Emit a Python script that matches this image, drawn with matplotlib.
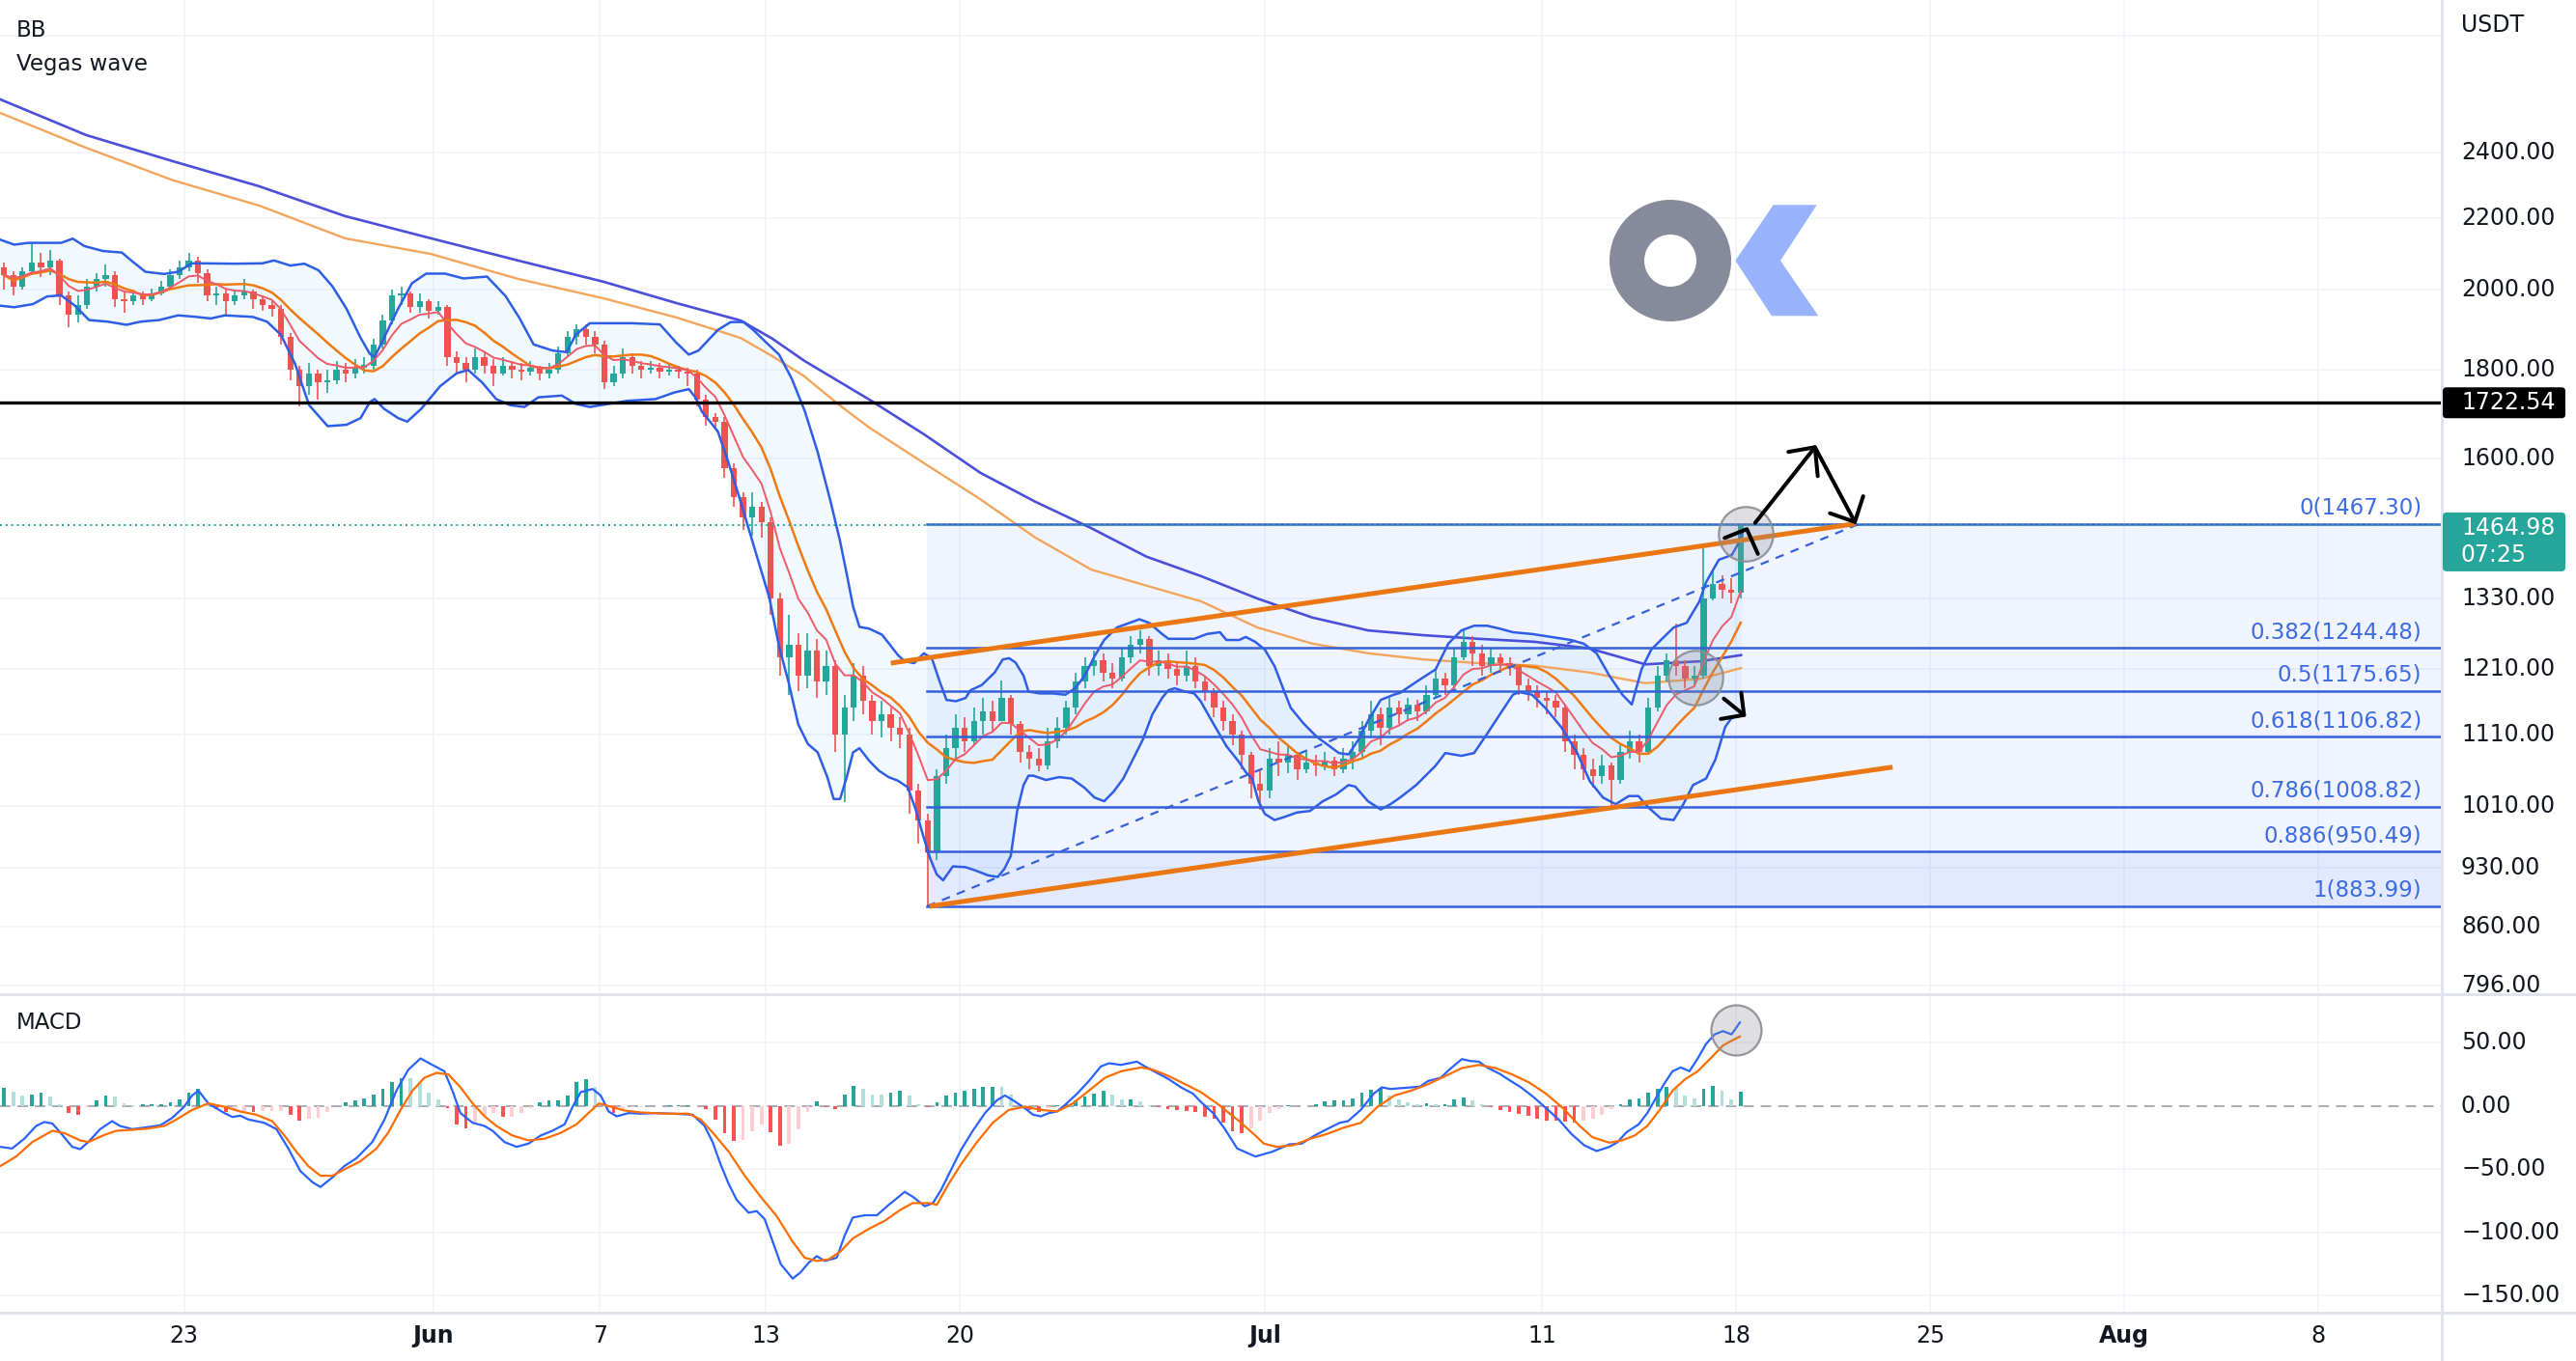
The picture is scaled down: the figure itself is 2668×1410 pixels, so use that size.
import numpy as np
import pandas as pd
import matplotlib
matplotlib.use("Agg")
import matplotlib.pyplot as plt
from matplotlib.patches import Wedge, Polygon, FancyBboxPatch
from matplotlib.lines import Line2D
from matplotlib.transforms import blended_transform_factory, IdentityTransform, Bbox

plt.rcParams['font.family'] = ['DejaVu Sans']

W, H, DPI = 2668, 1410, 100

# ---------------- time axis (day index, 1 May = 0) ----------------
XMIN, XMAX = 15.355, 103.47
tick_days = [22, 31, 37, 43, 50, 61, 71, 78, 85, 92, 99]
tick_labels = ["23", "Jun", "7", "13", "20", "Jul", "11", "18", "25", "Aug", "8"]
bold_ticks = ["Jun", "Jul", "Aug"]

price_ticks = [2400, 2200, 2000, 1800, 1600, 1330, 1210, 1110, 1010, 930, 860, 796]
price_grid_extra = [2800]
macd_ticks = [50, 0, -50, -100, -150]

# ---------------- candles (8h bars, first bar at day 15.5) ----------------
candle_t0 = 15.5
first_open = 2060
closes = [
    2040, 2010, 2050, 2075, 2060, 2080, 1985, 1935, 1960,
    2010, 2030, 2040, 1975, 1970, 1985, 1975, 1990, 2010,
    2040, 2060, 2080, 2045, 1985, 1990, 1970, 1985, 1995,
    1975, 1960, 1950, 1880, 1800, 1760, 1790, 1770, 1775,
    1800, 1790, 1805, 1810, 1860, 1920, 1985, 1990, 1955,
    1970, 1945, 1955, 1830, 1815, 1800, 1830, 1810, 1790,
    1810, 1800, 1795, 1805, 1790, 1800, 1840, 1880, 1900,
    1880, 1860, 1770, 1790, 1830, 1810, 1800, 1805, 1795,
    1800, 1795, 1790, 1730, 1690, 1680, 1580, 1520, 1480,
    1500, 1470, 1330, 1230, 1250, 1200, 1240, 1190, 1215,
    1110, 1150, 1200, 1160, 1130, 1140, 1120, 1110, 1030,
    990, 950, 1050, 1090, 1120, 1100, 1130, 1145, 1130,
    1165, 1125, 1085, 1075, 1065, 1100, 1120, 1150, 1190,
    1215, 1225, 1205, 1195, 1230, 1250, 1260, 1215, 1225,
    1210, 1200, 1215, 1190, 1175, 1150, 1130, 1110, 1080,
    1040, 1030, 1075, 1070, 1080, 1060, 1070, 1065, 1072,
    1060, 1075, 1085, 1115, 1140, 1120, 1150, 1140, 1155,
    1145, 1170, 1195, 1185, 1230, 1255, 1235, 1215, 1230,
    1220, 1215, 1185, 1175, 1165, 1160, 1150, 1100, 1080,
    1060, 1050, 1065, 1045, 1085, 1100, 1085, 1150, 1200,
    1225, 1215, 1195, 1200, 1330, 1355, 1345, 1340, 1464.98,
]
highs = [
    2075, 2050, 2060, 2130, 2100, 2110, 2085, 1995, 1985,
    2030, 2045, 2070, 2050, 1995, 2000, 1995, 2005, 2025,
    2055, 2080, 2100, 2090, 2055, 2010, 2000, 2000, 2030,
    2000, 1985, 1970, 1960, 1890, 1810, 1815, 1800, 1800,
    1820, 1815, 1825, 1830, 1875, 1935, 2000, 2010, 1995,
    1990, 1975, 1970, 1960, 1845, 1830, 1850, 1845, 1825,
    1830, 1820, 1815, 1820, 1810, 1815, 1855, 1895, 1912,
    1910, 1895, 1870, 1810, 1850, 1840, 1820, 1820, 1815,
    1815, 1810, 1805, 1800, 1740, 1700, 1690, 1590, 1530,
    1530, 1510, 1480, 1340, 1300, 1270, 1270, 1260, 1240,
    1225, 1170, 1220, 1215, 1170, 1160, 1150, 1135, 1120,
    1040, 1000, 1060, 1110, 1140, 1135, 1150, 1165, 1160,
    1192, 1170, 1130, 1095, 1090, 1120, 1135, 1160, 1205,
    1230, 1240, 1235, 1220, 1245, 1265, 1275, 1265, 1240,
    1235, 1220, 1240, 1230, 1200, 1180, 1160, 1140, 1115,
    1085, 1060, 1090, 1100, 1095, 1085, 1085, 1080, 1085,
    1078, 1090, 1100, 1130, 1160, 1150, 1165, 1160, 1165,
    1162, 1185, 1210, 1205, 1245, 1275, 1265, 1250, 1245,
    1235, 1230, 1215, 1195, 1185, 1175, 1170, 1155, 1110,
    1090, 1075, 1080, 1070, 1095, 1115, 1110, 1165, 1215,
    1235, 1285, 1225, 1215, 1420, 1380, 1370, 1365, 1467.3,
]
lows = [
    2000, 1985, 2000, 2040, 2035, 2040, 1960, 1905, 1915,
    1950, 1995, 2010, 1955, 1940, 1960, 1960, 1970, 1985,
    2000, 2030, 2050, 2020, 1970, 1960, 1935, 1960, 1975,
    1950, 1945, 1930, 1860, 1775, 1714, 1740, 1730, 1745,
    1765, 1770, 1780, 1790, 1800, 1850, 1910, 1960, 1940,
    1940, 1925, 1935, 1810, 1790, 1770, 1790, 1790, 1760,
    1785, 1780, 1775, 1785, 1775, 1780, 1790, 1830, 1860,
    1860, 1840, 1755, 1760, 1780, 1790, 1780, 1790, 1780,
    1785, 1780, 1760, 1715, 1670, 1665, 1560, 1500, 1455,
    1445, 1440, 1300, 1200, 1170, 1175, 1180, 1165, 1170,
    1085, 1015, 1130, 1140, 1110, 1105, 1100, 1090, 1000,
    960, 884, 940, 1040, 1075, 1085, 1095, 1110, 1115,
    1130, 1110, 1070, 1060, 1057, 1060, 1090, 1110, 1140,
    1180, 1200, 1190, 1180, 1190, 1220, 1235, 1200, 1200,
    1195, 1185, 1190, 1180, 1160, 1135, 1115, 1095, 1060,
    1020, 1004, 1020, 1050, 1055, 1045, 1055, 1050, 1058,
    1050, 1055, 1060, 1075, 1105, 1095, 1110, 1125, 1130,
    1130, 1140, 1165, 1170, 1180, 1225, 1215, 1200, 1205,
    1205, 1200, 1170, 1160, 1150, 1140, 1135, 1085, 1060,
    1045, 1035, 1040, 1007, 1040, 1075, 1070, 1080, 1145,
    1190, 1200, 1180, 1185, 1195, 1325, 1330, 1320, 1330,
]

# ---------------- Bollinger bands ----------------
bb_upper = [
    (15.36, 2138), (15.87, 2124), (16.37, 2129), (17.05, 2129), (17.56, 2129), (17.98, 2141),
    (18.40, 2120), (19.08, 2106), (19.75, 2102), (20.09, 2080), (20.60, 2049), (21.27, 2043),
    (21.78, 2049), (22.28, 2072), (22.79, 2072), (23.81, 2071), (24.82, 2072), (25.24, 2080),
    (25.83, 2066), (26.34, 2071), (26.85, 2053), (27.35, 2010), (27.86, 1951), (28.37, 1877),
    (28.70, 1838), (28.87, 1830), (29.21, 1877), (29.72, 1951), (30.22, 2018), (30.73, 2044),
    (31.41, 2044), (32.08, 2031), (32.93, 2036), (33.60, 1984), (34.11, 1926), (34.61, 1861),
    (35.29, 1846), (35.80, 1842), (36.13, 1885), (36.64, 1914), (37.32, 1914), (38.16, 1914),
    (39.17, 1911), (39.75, 1866), (40.21, 1836), (40.56, 1846), (41.26, 1897), (41.72, 1917),
    (42.19, 1917), (42.54, 1897), (43.00, 1866), (43.47, 1836), (43.93, 1778), (44.40, 1703),
    (44.86, 1614), (45.32, 1513), (45.67, 1434), (45.91, 1373), (46.14, 1315), (46.37, 1280),
    (46.72, 1277), (47.18, 1267), (47.42, 1253), (47.76, 1233), (48.00, 1223), (48.34, 1220),
    (48.69, 1236), (48.98, 1228), (49.27, 1190), (49.51, 1162), (49.85, 1160), (50.20, 1165),
    (50.38, 1177), (50.78, 1185), (51.25, 1205), (51.54, 1226), (51.77, 1228), (52.00, 1221),
    (52.29, 1200), (52.47, 1175), (52.87, 1172), (53.34, 1172), (53.80, 1170), (54.15, 1180),
    (54.50, 1200), (54.85, 1231), (55.20, 1258), (55.66, 1279), (56.13, 1287), (56.47, 1293),
    (56.82, 1287), (57.29, 1268), (57.52, 1260), (57.98, 1260), (58.45, 1260), (58.91, 1268),
    (59.38, 1271), (59.61, 1258), (60.07, 1258), (60.31, 1263), (60.65, 1255), (61.00, 1242),
    (61.35, 1215), (61.70, 1175), (61.93, 1150), (62.40, 1126), (62.86, 1107), (63.33, 1093),
    (63.67, 1083), (64.02, 1081), (64.37, 1102), (64.72, 1130), (65.18, 1162), (65.65, 1170),
    (65.88, 1173), (66.46, 1190), (67.16, 1210), (67.62, 1252), (68.09, 1274), (68.55, 1282),
    (69.02, 1282), (69.48, 1277), (69.95, 1271), (70.64, 1268), (71.34, 1263), (72.04, 1258),
    (72.50, 1252), (72.97, 1236), (73.43, 1200), (73.90, 1170), (74.24, 1155), (74.59, 1210),
    (74.94, 1242), (75.29, 1258), (75.75, 1279), (76.22, 1287), (76.68, 1324), (76.92, 1358),
    (77.38, 1399), (77.85, 1408), (78.08, 1429), (78.25, 1454),
]
bb_lower = [
    (15.36, 1959), (15.87, 1955), (16.54, 1963), (17.05, 1983), (17.56, 1986), (18.06, 1959),
    (18.57, 1922), (19.24, 1918), (19.92, 1910), (20.43, 1918), (21.10, 1922), (21.78, 1934),
    (22.45, 1930), (22.96, 1926), (23.47, 1934), (24.48, 1930), (24.99, 1918), (25.49, 1885),
    (26.00, 1814), (26.51, 1717), (27.18, 1670), (27.86, 1673), (28.37, 1688), (28.70, 1724),
    (28.87, 1731), (29.21, 1709), (29.72, 1688), (30.05, 1680), (30.56, 1709), (31.24, 1761),
    (31.83, 1791), (32.25, 1799), (32.76, 1769), (33.26, 1731), (33.77, 1717), (34.28, 1713),
    (34.78, 1735), (35.63, 1739), (36.13, 1720), (36.64, 1713), (37.32, 1720), (37.99, 1727),
    (39.01, 1731), (39.68, 1746), (40.21, 1754), (40.45, 1735), (40.68, 1703), (41.03, 1676),
    (41.26, 1658), (41.61, 1597), (42.07, 1513), (42.42, 1449), (42.77, 1388), (43.12, 1330),
    (43.47, 1247), (43.82, 1188), (44.16, 1125), (44.51, 1096), (44.86, 1084), (45.21, 1049),
    (45.44, 1019), (45.67, 1019), (45.91, 1049), (46.14, 1084), (46.37, 1090), (46.72, 1072),
    (47.07, 1058), (47.42, 1049), (47.76, 1044), (48.11, 1035), (48.40, 1005), (48.69, 968),
    (48.92, 942), (49.16, 922), (49.39, 915), (49.74, 932), (50.20, 931), (50.55, 927),
    (51.01, 921), (51.36, 919), (51.60, 929), (51.83, 945), (52.06, 1003), (52.29, 1038),
    (52.47, 1051), (52.64, 1051), (53.10, 1045), (53.57, 1049), (54.03, 1047), (54.50, 1034),
    (54.85, 1021), (55.20, 1016), (55.54, 1029), (55.89, 1047), (56.24, 1074), (56.59, 1102),
    (56.94, 1140), (57.29, 1165), (57.52, 1177), (57.75, 1180), (58.10, 1175), (58.45, 1172),
    (58.68, 1160), (59.14, 1126), (59.61, 1093), (60.07, 1070), (60.31, 1056), (60.54, 1047),
    (60.77, 1016), (61.00, 999), (61.35, 991), (61.70, 995), (62.16, 1001), (62.63, 1003),
    (63.09, 1016), (63.56, 1025), (64.02, 1038), (64.26, 1036), (64.72, 1016), (65.18, 1005),
    (65.53, 1012), (65.88, 1021), (66.46, 1038), (67.16, 1065), (67.51, 1083), (68.09, 1079),
    (68.55, 1083), (69.02, 1111), (69.48, 1140), (69.95, 1170), (70.18, 1174), (70.64, 1170),
    (71.11, 1150), (71.69, 1121), (72.27, 1083), (72.73, 1043), (73.20, 1021), (73.66, 1012),
    (74.13, 1023), (74.48, 1023), (74.83, 1008), (75.29, 993), (75.75, 991), (76.10, 1012),
    (76.45, 1038), (76.92, 1047), (77.26, 1074), (77.61, 1121), (77.85, 1135), (78.19, 1138),
]

# ---------------- Vegas tunnel long EMAs ----------------
ema_tunnel_slow = [
    (15.36, 2575), (18.46, 2456), (21.60, 2372), (24.70, 2295), (27.80, 2206), (30.90, 2142),
    (34.04, 2080), (37.14, 2022), (39.75, 1966), (42.08, 1921), (43.23, 1875), (44.38, 1821),
    (46.72, 1730), (48.70, 1652), (50.73, 1570), (52.71, 1511), (54.73, 1459), (56.72, 1405),
    (58.70, 1369), (60.73, 1329), (62.71, 1296), (64.73, 1274), (66.72, 1266), (68.70, 1260),
    (70.73, 1255), (72.71, 1244), (74.73, 1218), (76.72, 1223), (78.18, 1233),
]
ema_tunnel_fast = [
    (15.36, 2529), (18.46, 2415), (21.60, 2313), (24.70, 2237), (27.80, 2142), (30.90, 2098),
    (34.04, 2030), (37.14, 1978), (39.75, 1929), (42.08, 1877), (43.23, 1832), (44.38, 1784),
    (45.57, 1721), (46.72, 1667), (48.70, 1590), (50.73, 1516), (52.71, 1441), (54.73, 1381),
    (56.72, 1352), (58.70, 1324), (60.73, 1279), (62.71, 1252), (64.73, 1236), (66.72, 1226),
    (68.70, 1220), (70.73, 1216), (72.71, 1205), (74.73, 1188), (76.72, 1195), (78.18, 1212),
]

# ---------------- MACD ----------------
macd_line = [
    (15.36, -32.5), (15.79, -33.8), (16.23, -26.1), (16.66, -16.0), (16.95, -12.9), (17.24, -14.0),
    (17.53, -21.1), (17.96, -32.5), (18.25, -34.3), (18.54, -28.7), (18.97, -18.5), (19.40, -12.2),
    (19.69, -16.0), (20.13, -18.5), (20.56, -17.3), (21.14, -15.5), (21.57, -9.6), (22.00, -0.8),
    (22.29, 8.1), (22.52, 11.9), (22.87, 1.8), (23.45, -5.8), (23.74, -8.9), (24.03, -7.9),
    (24.32, -10.9), (24.89, -13.5), (25.33, -18.5), (25.76, -33.8), (26.19, -51.5), (26.63, -60.4),
    (26.92, -64.2), (27.35, -56.6), (27.78, -47.7), (28.22, -41.4), (28.79, -28.7), (29.23, -10.9),
    (29.66, 11.9), (30.09, 28.4), (30.53, 37.3), (30.96, 32.2), (31.39, 27.2), (31.68, 11.9),
    (31.97, -5.8), (32.41, -13.5), (32.84, -16.0), (33.13, -19.8), (33.56, -28.7), (34.00, -32.5),
    (34.43, -29.9), (34.86, -23.6), (35.29, -19.8), (35.73, -14.7), (36.02, -0.8), (36.31, 10.7),
    (36.74, 13.2), (37.03, 8.1), (37.32, -4.6), (37.61, -8.4), (38.04, -5.8), (38.47, -6.3),
    (39.05, -5.8), (39.63, -6.3), (40.35, -7.1), (40.78, -16.0), (41.07, -28.7), (41.36, -46.4),
    (41.65, -61.7), (41.94, -74.4), (42.37, -84.5), (42.66, -83.2), (42.95, -89.6), (43.24, -107.4),
    (43.53, -125.1), (43.96, -136.5), (44.25, -131.5), (44.54, -123.9), (44.83, -118.8), (45.12, -122.6),
    (45.55, -120.0), (45.84, -102.3), (46.13, -88.3), (46.56, -86.5), (47.00, -86.5), (47.43, -78.2),
    (47.72, -73.1), (48.00, -68.0), (48.29, -71.8), (48.73, -79.4), (49.02, -76.9), (49.31, -66.7),
    (49.74, -47.7), (50.03, -35.0), (50.46, -19.8), (50.90, -5.8), (51.33, 4.3), (51.62, 8.1),
    (51.91, 4.3), (52.34, -2.0), (52.63, -7.1), (52.92, -8.4), (53.21, -5.8), (53.50, -4.6),
    (53.78, 0.5), (54.22, 9.4), (54.65, 19.5), (55.08, 31.0), (55.37, 33.5), (55.81, 32.2),
    (56.09, 33.5), (56.38, 34.8), (56.67, 31.0), (57.11, 25.9), (57.54, 20.8), (57.97, 14.5),
    (58.41, 9.4), (58.69, 3.0), (59.13, -5.8), (59.56, -18.5), (60.00, -33.8), (60.66, -40.1),
    (61.27, -36.3), (61.88, -30.5), (62.33, -29.9), (62.79, -23.6), (63.24, -18.5), (63.70, -13.5),
    (64.00, -12.2), (64.46, -3.3), (64.92, 9.4), (65.22, 14.5), (65.52, 13.2), (65.98, 14.0),
    (66.59, 15.0), (66.89, 19.5), (67.35, 22.1), (67.65, 28.4), (68.11, 36.8), (68.41, 35.3),
    (68.72, 34.8), (69.02, 30.2), (69.48, 25.1), (69.78, 20.8), (70.24, 14.5), (70.69, 6.9),
    (71.15, -2.0), (71.60, -10.9), (72.06, -22.3), (72.52, -31.2), (72.97, -35.8), (73.43, -32.5),
    (73.73, -28.7), (74.04, -21.1), (74.49, -14.7), (74.80, -5.8), (75.10, 5.6), (75.40, 17.0),
    (75.71, 27.2), (76.01, 30.2), (76.32, 27.2), (76.62, 37.3), (76.92, 48.7), (77.23, 56.3),
    (77.53, 58.9), (77.84, 56.3), (78.14, 65.7),
]
macd_signal = [
    (15.36, -47.7), (15.94, -40.1), (16.52, -28.7), (17.24, -19.8), (17.67, -21.6), (18.25, -27.4),
    (18.54, -28.7), (19.12, -23.1), (19.55, -19.8), (20.13, -19.0), (20.70, -18.0), (21.28, -16.0),
    (21.72, -10.9), (22.29, -3.3), (22.87, 1.8), (23.45, -0.8), (24.03, -4.6), (24.60, -7.1),
    (25.18, -12.2), (25.62, -23.6), (26.05, -36.3), (26.48, -47.7), (26.92, -55.3), (27.35, -55.3),
    (27.78, -50.3), (28.36, -43.9), (28.94, -33.8), (29.37, -21.1), (29.81, -3.3), (30.24, 11.9),
    (30.67, 22.1), (31.11, 25.9), (31.54, 24.6), (31.97, 14.5), (32.41, 1.8), (32.84, -8.4),
    (33.27, -16.0), (33.85, -23.6), (34.43, -27.4), (35.00, -26.1), (35.58, -21.6), (36.16, -14.7),
    (36.59, -5.8), (36.97, 1.8), (37.32, -0.3), (37.89, -3.8), (38.47, -5.3), (39.34, -6.3),
    (40.20, -6.3), (40.64, -10.9), (41.07, -21.1), (41.65, -36.3), (42.23, -55.3), (42.80, -71.8),
    (43.38, -87.1), (43.96, -107.4), (44.39, -120.0), (44.83, -122.6), (45.26, -121.3), (45.69, -115.0),
    (46.13, -104.8), (46.71, -97.2), (47.28, -90.9), (47.86, -82.0), (48.29, -76.9), (48.87, -76.9),
    (49.16, -78.2), (49.59, -61.7), (50.03, -46.4), (50.61, -28.7), (51.18, -13.5), (51.76, -3.3),
    (52.34, -0.8), (52.92, -3.3), (53.50, -4.6), (54.07, 1.8), (54.65, 11.9), (55.23, 22.1),
    (55.81, 27.2), (56.53, 30.2), (56.96, 28.4), (57.54, 23.3), (58.12, 17.0), (58.69, 10.7),
    (59.27, 1.8), (60.00, -10.9), (60.66, -23.6), (60.96, -29.9), (61.42, -32.5), (62.03, -31.2),
    (62.64, -26.1), (63.24, -22.3), (63.85, -17.3), (64.46, -13.5), (65.07, -0.8), (65.68, 8.1),
    (66.28, 11.9), (66.89, 17.0), (67.50, 23.3), (68.11, 29.7), (68.72, 32.2), (69.32, 29.7),
    (69.93, 24.6), (70.54, 18.3), (71.15, 9.4), (71.76, -2.0), (72.36, -16.0), (72.82, -24.9),
    (73.43, -29.2), (73.88, -27.4), (74.34, -23.6), (74.80, -16.0), (75.25, -3.3), (75.71, 11.9),
    (76.16, 20.8), (76.62, 27.2), (77.08, 37.3), (77.53, 47.5), (77.84, 51.3), (78.14, 54.6),
]
macd_hist = [
    14, 11, 8, 9, 10, 7, 1, -6, -7.5,
    -1, 4, 8, 7, 2, 0.5, 1, 1, 1.5,
    3, 5, 10, 13, 2, -3, -5, -4, -4,
    -5, -4.5, -4, -4, -7, -11.5, -10.5, -9.5, -5,
    -0.5, 3, 4, 6, 8.5, 13, 19, 22, 21.5,
    19, 10, 5, -2, -15, -18, -13, -8, -6,
    -8.5, -8.5, -6, -2, 2.5, 4, 4.5, 8, 19,
    21, 15, 2, -5.5, -3, -1.5, -1, -0.5, -0.3,
    0.3, 0.5, 0.5, -0.5, -3, -11, -22, -27.5, -27,
    -20, -14.5, -21, -32, -30, -19, -5, 3.8, -1,
    -3, 9, 16, 13, 9, 8.5, 10.5, 12, 8,
    1, -1.5, 3, 8, 10, 12, 13.5, 15, 15,
    14.5, 9, 1, -3.5, -5, -2, 0.3, 2, 4.5,
    7, 9.5, 11.5, 9, 5, 5, 3.5, 0.5, -1,
    -2.5, -3.5, -4, -5, -8.5, -10.5, -13.5, -20, -22,
    -18, -12, -6, -3, 0.5, -0.5, -0.5, 1.5, 3.5,
    4.5, 4.5, 6, 10, 12.5, 13, 8, 5, 3,
    1, 2, 1, 1.5, 5, 6.5, 4, 1.5, -1.5,
    -3.5, -5, -6.5, -8, -10, -11.5, -12, -12.5, -13,
    -12, -10.5, -7, -3, 1, 5, 6, 10, 13.5,
    15, 14, 8, 6, 13, 15.5, 12, 5, 11,
]

# ---------------- drawings ----------------
fib_start_day = 48.81
fib_ratios = ["0", "0.382", "0.5", "0.618", "0.786", "0.886", "1"]
fib_prices = [1467.30, 1244.48, 1175.65, 1106.82, 1008.82, 950.49, 883.99]
fib_label_day = 102.75
resistance_price = 1722.54
last_price = 1464.98
countdown = "07:25"
channel_upper = [(47.5, 1220), (82.3, 1467.3)]
channel_lower = [(48.9, 884), (83.65, 1063)]
fib_trend = [(48.81, 883.99), (82.45, 1467.30)]
arrow_main = [(78.69, 1469), (80.85, 1624), (82.29, 1471)]
arrow_head_peak = [(79.89, 1614), (80.85, 1624), (80.95, 1563)]
arrow_head_end = [(81.39, 1488), (82.29, 1471), (82.59, 1522)]
arrow_small_up = [(77.59, 1440), (78.39, 1457), (78.79, 1410)]
arrow_down_shaft = [(77.56, 1164), (78.29, 1139)]
arrow_down_head = [(78.19, 1173), (78.29, 1139), (77.45, 1133)]
circles_price = [(78.36, 1448.6), (76.54, 1196.9)]
circle_macd = (77.99, 60.1)

# ---------------- colours ----------------
GREEN, RED = '#26a69a', '#ef5350'
GRID = '#f0f3fa'
TXT = '#131722'
FS = 17

fig = plt.figure(figsize=(W / DPI, H / DPI), dpi=DPI)
fig.patch.set_facecolor('white')

ax = fig.add_axes([0, 1 - 1030 / H, 2529 / W, 1030 / H])
ax2 = fig.add_axes([0, 1 - 1359 / H, 2529 / W, 327 / H])
ax.set_yscale('log')
ax.set_ylim(786.8, 2937.1)
ax2.set_ylim(-162.7, 86.5)
for a in (ax, ax2):
    a.set_xlim(XMIN, XMAX)
    for s in a.spines.values():
        s.set_visible(False)
    a.set_xticks([])
    a.set_yticks([])
    a.set_yticks([], minor=True)
    a.set_xticks([], minor=True)
    a.set_facecolor('white')
    for d in tick_days:
        a.axvline(d, color=GRID, lw=1.1, zorder=0.5)

for p in price_ticks + price_grid_extra:
    ax.axhline(p, color=GRID, lw=1.1, zorder=0.5)
for m in macd_ticks:
    if m != 0:
        ax2.axhline(m, color=GRID, lw=1.1, zorder=0.5)

# --- fib retracement fills
for i in range(len(fib_prices) - 1):
    alpha = 0.13 if i == len(fib_prices) - 2 else 0.065
    ax.fill_between([fib_start_day, XMAX], fib_prices[i + 1], fib_prices[i],
                    color='#2962ff', alpha=alpha, lw=0, zorder=0.8)

# --- Bollinger fill and lines
ut, uv = zip(*bb_upper)
lt, lv = zip(*bb_lower)
ax.fill(list(ut) + list(lt[::-1]), list(uv) + list(lv[::-1]),
        color='#2196f3', alpha=0.06, lw=0, zorder=1)
ax.plot(ut, uv, color='#2f5ee6', lw=1.8, zorder=3.2)
ax.plot(lt, lv, color='#2f5ee6', lw=1.8, zorder=3.2)

# --- long EMAs
st, sv = zip(*ema_tunnel_slow)
ft, fv = zip(*ema_tunnel_fast)
ax.plot(st, sv, color='#4b4fd9', lw=1.9, zorder=2)
ax.plot(ft, fv, color='#f4a55c', lw=1.7, zorder=2)

# --- candles
c = np.array(closes, float)
hi_ = np.array(highs, float)
lo_ = np.array(lows, float)
o = np.r_[first_open, c[:-1]]
t = candle_t0 + np.arange(len(c)) / 3.0
up = c >= o
col = np.where(up, GREEN, RED)
wick_hi = np.maximum(hi_, np.maximum(o, c))
wick_lo = np.minimum(lo_, np.minimum(o, c))
ax.vlines(t, wick_lo, wick_hi, colors=col, lw=1.2, zorder=2.5)
body_lo = np.minimum(o, c)
body_h = np.maximum(np.abs(c - o), body_lo * 0.003)
ax.bar(t, body_h, bottom=body_lo, width=0.22, color=col, lw=0, zorder=2.6)

# --- short indicators (BB basis and fast EMA) from closes
cs = pd.Series(c)
basis = cs.rolling(10, min_periods=1).mean()
ema_fast = cs.ewm(span=6.5, adjust=False).mean()
ax.plot(t, basis, color='#f07a12', lw=1.8, zorder=3.3)
ax.plot(t, ema_fast, color='#ee5a66', lw=1.4, zorder=3.4)

# --- fib lines and labels
for r, p in zip(fib_ratios, fib_prices):
    ax.plot([fib_start_day, XMAX], [p, p], color='#3560d8', lw=1.8, zorder=4)
    ax.annotate(f"{r}({p:.2f})", xy=(fib_label_day, p), xytext=(0, 5),
                textcoords='offset pixels', ha='right', va='bottom',
                fontsize=16.5, color='#3d6be0', zorder=4)

ft_x, ft_y = zip(*fib_trend)
ax.plot(ft_x, ft_y, color='#3560d8', lw=1.6, ls=(0, (4, 3.5)), zorder=4.1)

# --- horizontal price lines
ax.axhline(resistance_price, color='black', lw=2.4, zorder=4.5)
ax.axhline(last_price, color=GREEN, lw=1.4, ls=(0, (1, 2)), zorder=4.4)

# --- channel trend lines
for seg in (channel_upper, channel_lower):
    xs, ys = zip(*seg)
    ax.plot(xs, ys, color='#ea7712', lw=3.6, solid_capstyle='butt', zorder=5)

# --- circles
for (cx, cy) in circles_price:
    ax.scatter([cx], [cy], s=1650, facecolor=(0.55, 0.56, 0.60, 0.28),
               edgecolor=(0.55, 0.55, 0.57, 0.9), linewidths=1.6, zorder=6)
ax2.scatter([circle_macd[0]], [circle_macd[1]], s=1400, facecolor=(0.55, 0.56, 0.60, 0.28),
            edgecolor=(0.55, 0.55, 0.57, 0.9), linewidths=1.6, zorder=6)

# --- hand drawn arrows
for seg in (arrow_main, arrow_head_peak, arrow_head_end, arrow_small_up,
            arrow_down_shaft, arrow_down_head):
    xs, ys = zip(*seg)
    ax.plot(xs, ys, color='black', lw=2.9, solid_capstyle='round',
            solid_joinstyle='round', zorder=7)

# --- MACD pane
hist = np.array(macd_hist, float)
prev = np.r_[hist[0], hist[:-1]]
hcol = np.where(hist >= 0, np.where(hist >= prev, '#26a69a', '#b2dfdb'),
                np.where(hist < prev, '#ff5252', '#ffcdd2'))
ax2.bar(t, hist, width=0.13, color=hcol, lw=0, zorder=2)
ax2.axhline(0, color='#a3a6af', lw=1.3, ls=(0, (6, 4)), zorder=1.5)
mt, mv = zip(*macd_line)
st2, sv2 = zip(*macd_signal)
ax2.plot(mt, mv, color='#2962ff', lw=1.6, zorder=3)
ax2.plot(st2, sv2, color='#ff6d00', lw=1.6, zorder=3)

# --- separators
fig.add_artist(Line2D([0, 1], [1 - 1030 / H] * 2, transform=fig.transFigure, color='#e0e3eb', lw=2.2, zorder=5))
fig.add_artist(Line2D([0, 1], [1 - 1360 / H] * 2, transform=fig.transFigure, color='#e0e3eb', lw=2.2, zorder=5))
fig.add_artist(Line2D([2529 / W] * 2, [0, 1], transform=fig.transFigure, color='#e0e3eb', lw=2.2, zorder=5))

# --- right axis labels
tr_price = blended_transform_factory(fig.transFigure, ax.transData)
tr_macd = blended_transform_factory(fig.transFigure, ax2.transData)
xlab = 2549 / W
for p in price_ticks:
    txt = fig.text(xlab, p, f"{p:.2f}", transform=tr_price, ha='left', va='center',
                   fontsize=FS, color=TXT)
    if p == min(price_ticks):
        clip = Bbox.from_extents(2530, H - 1029, W, H)
        txt.set_clip_box(clip)
        txt.set_clip_on(True)
for m in macd_ticks:
    lab = f"{m:.2f}".replace('-', '\u2212')
    fig.text(xlab, m, lab, transform=tr_macd, ha='left', va='center', fontsize=FS, color=TXT)
fig.text(xlab, 1 - 26 / H, "USDT", ha='left', va='center', fontsize=FS, color=TXT)

# price boxes
yd = ax.transData.transform((XMIN, resistance_price))[1]
fig.add_artist(FancyBboxPatch((2530, yd - 16), 127, 32, boxstyle='round,pad=0,rounding_size=4',
                              transform=IdentityTransform(), facecolor='black', edgecolor='none', zorder=20))
fig.text(2549, yd, f"{resistance_price:.2f}", transform=IdentityTransform(), ha='left', va='center',
         fontsize=FS, color='white', zorder=21)
yd2 = ax.transData.transform((XMIN, last_price))[1]
fig.add_artist(FancyBboxPatch((2530, yd2 - 48), 127, 61, boxstyle='round,pad=0,rounding_size=4',
                              transform=IdentityTransform(), facecolor=GREEN, edgecolor='none', zorder=20))
fig.text(2549, yd2 - 3, f"{last_price:.2f}", transform=IdentityTransform(), ha='left', va='center',
         fontsize=FS, color='white', zorder=21)
fig.text(2549, yd2 - 31, countdown, transform=IdentityTransform(), ha='left', va='center',
         fontsize=FS, color='white', zorder=21)

# --- time axis labels
tr_time = blended_transform_factory(ax.transData, fig.transFigure)
for d, lab in zip(tick_days, tick_labels):
    fig.text(d, 1 - 1384 / H, lab, transform=tr_time, ha='center', va='center', fontsize=FS,
             color=TXT, fontweight='bold' if lab in bold_ticks else 'normal')

# --- pane titles
fig.text(17 / W, 1 - 31 / H, "BB", ha='left', va='center', fontsize=16.5, color=TXT)
fig.text(17 / W, 1 - 66 / H, "Vegas wave", ha='left', va='center', fontsize=16.5, color=TXT)
fig.text(17 / W, 1 - 1059 / H, "MACD", ha='left', va='center', fontsize=16.5, color=TXT)

# --- watermark logo
lax = fig.add_axes([1650 / W, 1 - 350 / H, 260 / W, 160 / H])
lax.set_xlim(1650, 1910)
lax.set_ylim(350, 190)
lax.axis('off')
lax.add_patch(Wedge((1730, 270), 63, 0, 360, width=36, facecolor='#878a9b', edgecolor='none'))
lax.add_patch(Polygon([(1881.7, 212.3), (1836.7, 212.3), (1797.3, 270), (1835, 327.3),
                       (1883.3, 327.3), (1844, 270)], closed=True, facecolor='#98b3fb', edgecolor='none'))

fig.savefig("out.png", dpi=DPI, facecolor='white')
